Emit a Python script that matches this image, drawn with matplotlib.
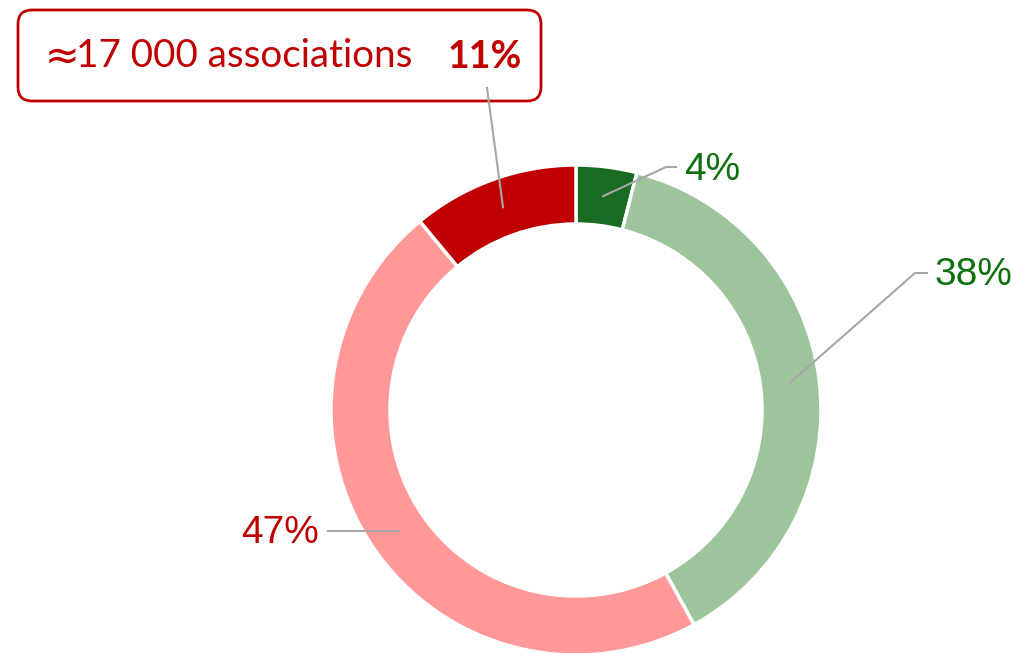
import numpy as np
import matplotlib
matplotlib.use("Agg")
import matplotlib.pyplot as plt
from matplotlib.patches import FancyBboxPatch

# ---- data ----
shares = [4, 38, 47, 11]
labels = ["4%", "38%", "47%", "11%"]
colors = ["#1a6b22", "#9dc49b", "#ff9999", "#c00000"]
approx_sign = "\u2248"
callout_text = "17 000 associations"

GREEN_TXT = "#0f700f"
RED_TXT = "#c00000"
LEADER = "#a6a6a6"

W, H = 1015, 653
fig = plt.figure(figsize=(W / 100, H / 100), dpi=100)
ax = fig.add_axes([0, 0, 1, 1])

cx, cy = 576, H - 410
r_out, ring = 245, 59

wedges, _ = ax.pie(shares, colors=colors, startangle=90, counterclock=False,
                   center=(cx, cy), radius=r_out,
                   wedgeprops=dict(width=ring, edgecolor="white", linewidth=2.5),
                   frame=True)
ax.set_xlim(0, W)
ax.set_ylim(0, H)
ax.axis("off")

# anchor point of each leader: middle of the ring at the wedge's mid angle
r_mid = r_out - ring / 2
anchors = []
for w in wedges:
    a = np.deg2rad((w.theta1 + w.theta2) / 2)
    anchors.append((cx + r_mid * np.cos(a), cy + r_mid * np.sin(a)))

lbl_font = ["Liberation Sans", "DejaVu Sans"]

# 4%
x0, y0 = anchors[0]
ax.plot([x0, 666, 676], [y0, H - 167, H - 167], color=LEADER, lw=1.5)
ax.text(684, H - 170, labels[0], color=GREEN_TXT, fontsize=28,
        family=lbl_font, va="center", ha="left")

# 38%
x0, y0 = anchors[1]
ax.plot([x0, 915, 927], [y0, H - 273, H - 273], color=LEADER, lw=1.5)
ax.text(935, H - 275, labels[1], color=GREEN_TXT, fontsize=28,
        family=lbl_font, va="center", ha="left")

# 47%
x0, y0 = anchors[2]
ax.plot([x0, 328], [y0, y0], color=LEADER, lw=1.5)
ax.text(319, y0 - 2, labels[2], color=RED_TXT, fontsize=28,
        family=lbl_font, va="center", ha="right")

# 11% callout box
x0, y0 = anchors[3]
ax.plot([x0, 487], [y0, H - 88], color=LEADER, lw=1.5)
box = FancyBboxPatch((18, H - 101), 523, 91,
                     boxstyle="round,pad=0,rounding_size=14",
                     facecolor="none", edgecolor=RED_TXT, linewidth=2)
ax.add_patch(box)
box_font = ["Lato", "DejaVu Sans"]
ax.text(45, H - 57, approx_sign, color=RED_TXT, fontsize=30,
        family=["DejaVu Sans"], va="center", ha="left")
ax.text(76, H - 56, callout_text, color=RED_TXT, fontsize=27.8,
        family=box_font, va="center", ha="left")
ax.text(522, H - 57, labels[3], color=RED_TXT, fontsize=27,
        family=box_font, fontweight="bold", va="center", ha="right")

fig.savefig("out.png", dpi=100)
